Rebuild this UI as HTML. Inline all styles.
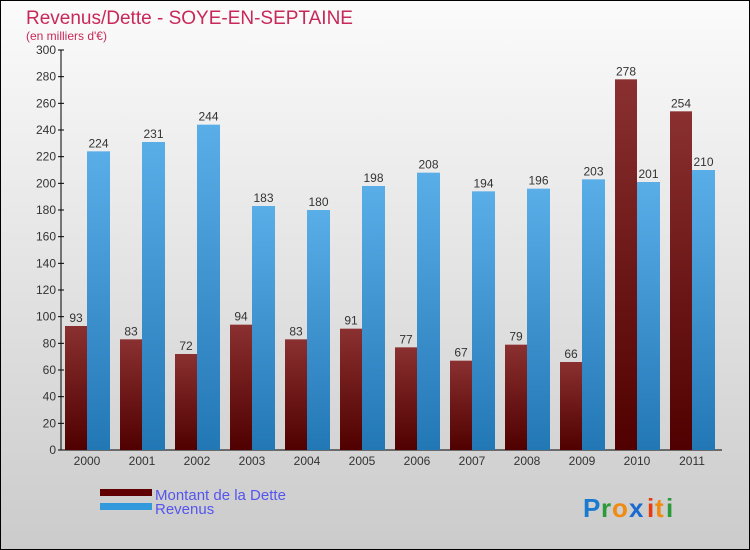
<!DOCTYPE html>
<html><head><meta charset="utf-8"><style>
body{margin:0}
#c{width:750px;height:550px;position:relative;overflow:hidden}
svg text{font-family:"Liberation Sans",sans-serif}
</style></head><body>
<div id="c">
<svg id="s" width="750" height="550" xmlns="http://www.w3.org/2000/svg">
<defs>
<linearGradient id="bg" x1="0" y1="0" x2="0" y2="1"><stop offset="0" stop-color="#fbfbfb"/><stop offset="1" stop-color="#cbcbcb"/></linearGradient>
<linearGradient id="gd" x1="0" y1="0" x2="0" y2="1"><stop offset="0" stop-color="#8a3030"/><stop offset="1" stop-color="#500000"/></linearGradient>
<linearGradient id="gr" x1="0" y1="0" x2="0" y2="1"><stop offset="0" stop-color="#5aaee8"/><stop offset="1" stop-color="#2277b5"/></linearGradient>
</defs>
<rect x="0.5" y="0.5" width="749" height="549" fill="url(#bg)" stroke="#000"/>
<text x="26" y="24" font-size="19" fill="#c8285a">Revenus/Dette - SOYE-EN-SEPTAINE</text>
<text x="26" y="40" font-size="12" fill="#c8285a">(en milliers d'€)</text>
<g id="plot"></g>
<rect x="100" y="489" width="52" height="7" fill="#600000"/>
<rect x="100" y="503" width="52" height="7" fill="#3399dd"/>
<text x="155" y="500" font-size="15" fill="#5555ee">Montant de la Dette</text>
<text x="155" y="514" font-size="15" fill="#5555ee">Revenus</text>
<g font-size="26" font-weight="bold">
<text x="583" y="517" fill="#1a7ad0">P</text><text x="601" y="517" fill="#2a9a3a">r</text><text x="612" y="517" fill="#f08a10">o</text><text x="629" y="517" fill="#1a6ad0">x</text><text x="647" y="517" fill="#e83a10">i</text><text x="655" y="517" fill="#f08a10">t</text><text x="666" y="517" fill="#2a9a3a">i</text>
</g>
</svg>
</div>
<script>
const years=["2000","2001","2002","2003","2004","2005","2006","2007","2008","2009","2010","2011"];
const dette=[93,83,72,94,83,91,77,67,79,66,278,254];
const revenus=[224,231,244,183,180,198,208,194,196,203,201,210];
const ticks=[0,20,40,60,80,100,120,140,160,180,200,220,240,260,280,300];
const NS="http://www.w3.org/2000/svg";
const g=document.getElementById('plot');
const x0=63,bw=55,y0=450,ymax=300,h=400;
const y=v=>y0-v/ymax*h;
const xb=i=>x0+i*bw;
function el(t,a){const e=document.createElementNS(NS,t);for(const k in a)e.setAttribute(k,a[k]);g.appendChild(e);return e;}
const ax=el('line',{x1:61,y1:y(300),x2:61,y2:y0,stroke:'#000'});


const xa=el('line',{x1:61,y1:y0,x2:722,y2:y0,stroke:'#000'});


ticks.forEach(t=>{
 const l=el('line',{x1:58,x2:64,y1:y(t),y2:y(t),stroke:'#000'});
 
 
 const tx=el('text',{x:56,y:y(t)+4,'font-size':12,fill:'#333','text-anchor':'end'});tx.textContent=t;
 
 
});
years.forEach((yr,i)=>{
 const bx=xb(i)+2;
 const d=el('rect',{x:bx,y:y(dette[i]),width:22,height:y0-y(dette[i]),fill:'url(#gd)'});
 
 
 const r=el('rect',{x:bx+22,y:y(revenus[i]),width:23,height:y0-y(revenus[i]),fill:'url(#gr)'});
 
 
 const t1=el('text',{x:bx+11,y:y(dette[i])-4,'font-size':12,fill:'#333','text-anchor':'middle'});t1.textContent=dette[i];
 
 
 const t2=el('text',{x:bx+33.5,y:y(revenus[i])-4,'font-size':12,fill:'#333','text-anchor':'middle'});t2.textContent=revenus[i];
 
 
 const xl=el('text',{x:bx+22,y:465,'font-size':12,fill:'#333','text-anchor':'middle'});xl.textContent=yr;
 
 
});
</script>
</body></html>
